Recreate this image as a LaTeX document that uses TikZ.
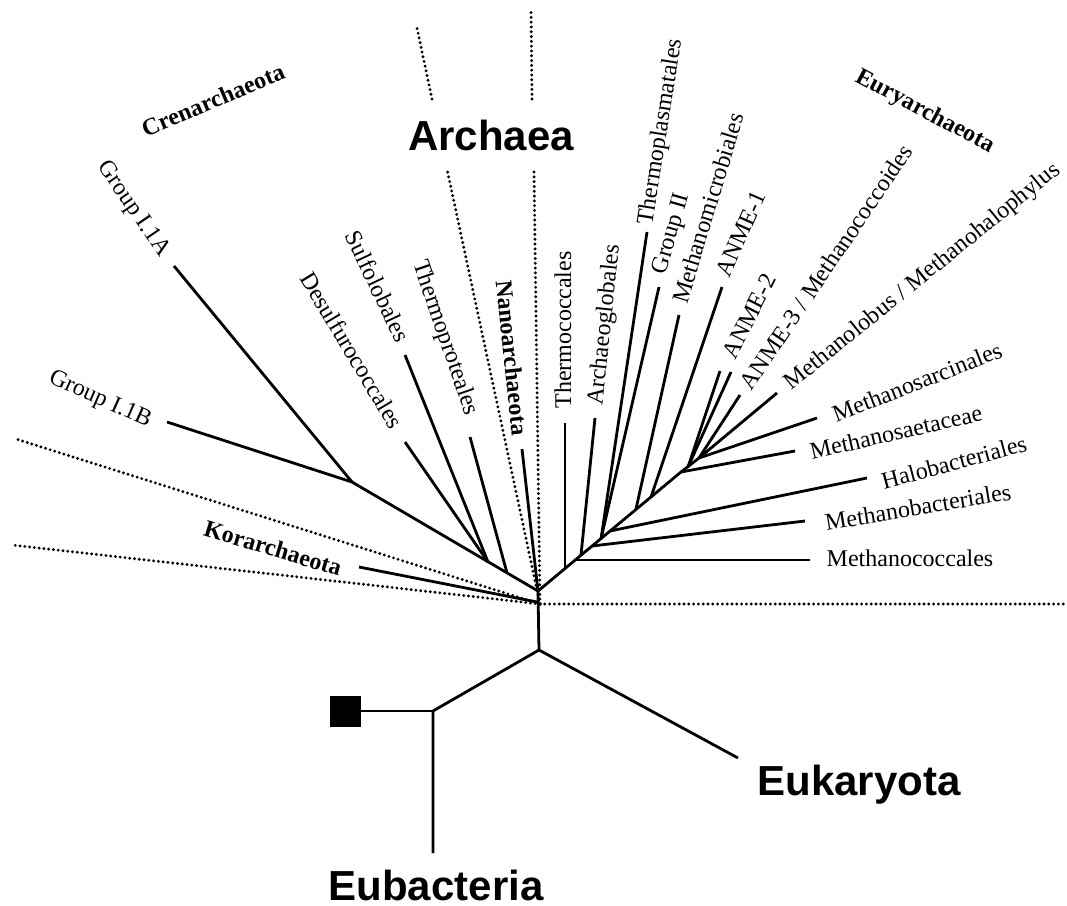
\documentclass[tikz,border=0pt]{standalone}
\usepackage{fontspec}
\setmainfont{Liberation Serif}
\setsansfont{Liberation Sans}
\begin{document}
\begin{tikzpicture}[x=0.5pt,y=-0.5pt,
  branch/.style={line width=1.4pt},
  divider/.style={line width=1.6pt, line cap=round, dash pattern=on 0pt off 2.4pt},
  taxon/.style={font=\fontsize{12}{14}\selectfont, inner sep=0pt},
  phylum/.style={font=\fontsize{12}{14}\selectfont\bfseries, inner sep=0pt},
  kingdomname/.style={font=\sffamily\bfseries\fontsize{21}{25}\selectfont, inner sep=0pt}]
\useasboundingbox (0,0) rectangle (1067,906);

% ---- junctions and tips ----
\coordinate (R) at (538,591);     % archaeal root
\coordinate (D) at (540,604);     % meeting point of the dividers
\coordinate (J1) at (539,650);
\coordinate (J2) at (433,711);
\coordinate (eubEnd) at (433,853);
\coordinate (eukEnd) at (738,758);

% Crenarchaeota
\coordinate (c1) at (352,482);
\coordinate (tI1A) at (174,266);
\coordinate (tI1B) at (167,422);
\coordinate (cDS) at (488,562);
\coordinate (tSulf) at (405,355);
\coordinate (tDesulf) at (405,442);
\coordinate (cTp) at (507,573);
\coordinate (tTp) at (470,437);
\coordinate (tNano) at (522,449);
\coordinate (tKor) at (359,567);
\coordinate (kEnd) at (537,602);

% Euryarchaeota
\coordinate (T) at (681,472);
\coordinate (F) at (699,458);
\coordinate (eTc) at (565,568);
\coordinate (tTc) at (565,423);
\coordinate (eMc) at (575,560);
\coordinate (tMc) at (810,560);
\coordinate (eAg) at (581,555);
\coordinate (tAg) at (595,418);
\coordinate (eMb) at (592,546);
\coordinate (tMb) at (805,521);
\coordinate (eTG) at (601,539);
\coordinate (tTpl) at (647,232);
\coordinate (tG2) at (659,287);
\coordinate (eHa) at (610,531);
\coordinate (tHa) at (867,478);
\coordinate (eMm) at (636,509);
\coordinate (tMm) at (679,315);
\coordinate (eA1) at (651,497);
\coordinate (tA1) at (722,287);
\coordinate (tMst) at (795,451);
\coordinate (eA2) at (688,467);
\coordinate (tA2a) at (720,371);
\coordinate (tA2b) at (731,372);
\coordinate (tA3) at (740,395);
\coordinate (tMl) at (777,393);
\coordinate (tMs) at (817,418);

% ---- dividers between groups ----
\draw[divider] (D) -- (1067,604);
\draw[divider] (D) -- (12,545);
\draw[divider] (D) -- (16,439);
\draw[divider] (D) -- (447,169);
\draw[divider] (432,99) -- (417,28);
\draw[divider] (D) -- (534,170);
\draw[divider] (532,99) -- (531,10);

% ---- deep branches ----
\draw[branch] (R) -- (J1) -- (J2) -- (eubEnd);
\draw[branch] (J1) -- (eukEnd);
\node[draw, fill=black, minimum size=15pt, inner sep=0pt] (sq) at (345,711) {};
\draw[branch] (sq.east) -- (J2);

% ---- Crenarchaeota ----
\draw[branch] (R) -- (c1);
\draw[branch] (c1) -- (tI1A);
\draw[branch] (c1) -- (tI1B);
\draw[branch] (cDS) -- (tSulf);
\draw[branch] (cDS) -- (tDesulf);
\draw[branch] (cTp) -- (tTp);
\draw[branch] (R) -- (tNano);
\draw[branch] (kEnd) -- (tKor);

% ---- Euryarchaeota ----
\draw[branch] (R) -- (T) -- (F);
\draw[branch] (eTc) -- (tTc);
\draw[branch] (eMc) -- (tMc);
\draw[branch] (eAg) -- (tAg);
\draw[branch] (eMb) -- (tMb);
\draw[branch] (eTG) -- (tTpl);
\draw[branch] (eTG) -- (tG2);
\draw[branch] (eHa) -- (tHa);
\draw[branch] (eMm) -- (tMm);
\draw[branch] (eA1) -- (tA1);
\draw[branch] (T) -- (tMst);
\draw[branch] (eA2) -- (tA2a);
\draw[branch] (eA2) -- (tA2b);
\draw[branch] (F) -- (tA3);
\draw[branch] (F) -- (tMl);
\draw[branch] (F) -- (tMs);

% ---- domain names ----
\node[kingdomname] (archaea) at (491,135) {Archaea};
\node[kingdomname, anchor=base] (eukaryota) at (859,795) {Eukaryota};
\node[kingdomname, anchor=base] (eubacteria) at (436,900) {Eubacteria};

% ---- phylum names ----
\node[phylum, rotate=22.8] (cren) at (213,100) {Crenarchaeota};
\node[phylum, rotate=-28] (eury) at (925,112) {Euryarchaeota};
\node[phylum, rotate=-84] (nano) at (512,358) {Nanoarchaeota};
\node[phylum, rotate=-16.7] (kor) at (273,548) {Korarchaeota};

% ---- Crenarchaeota lineages ----
\node[taxon, rotate=-55.6] (lI1A) at (133,209) {Group I.1A};
\node[taxon, rotate=-24] (lI1B) at (100,400) {Group I.1B};
\node[taxon, rotate=-59] (lDesulf) at (352,350) {Desulfurococcales};
\node[taxon, rotate=-64.7] (lSulf) at (378,286) {Sulfolobales};
\node[taxon, rotate=-71] (lTp) at (445,338) {Thermoproteales};

% ---- Euryarchaeota lineages ----
\node[taxon, rotate=90] (lTc) at (563,330) {Thermococcales};
\node[taxon, rotate=84] (lAg) at (605,325) {Archaeoglobales};
\node[taxon, rotate=81] (lTpl) at (661,132) {Thermoplasmatales};
\node[taxon, rotate=74] (lG2) at (672,234) {Group II};
\node[taxon, rotate=73] (lMm) at (708,208) {Methanomicrobiales};
\node[taxon, rotate=66] (lA1) at (741,234) {ANME-1};
\node[taxon, rotate=63] (lA2) at (749,316) {ANME-2};
\node[taxon, rotate=56] (lA3) at (826,267) {ANME-3 / Methanococcoides};
\node[taxon, rotate=39] (lMl) at (923,277) {Methanolobus / Methanohalophylus};
\node[taxon, rotate=21.5] (lMs) at (917,382) {Methanosarcinales};
\node[taxon, rotate=13] (lMst) at (896,432) {Methanosaetaceae};
\node[taxon, rotate=15] (lHa) at (954,462) {Halobacteriales};
\node[taxon, rotate=9.5] (lMb) at (918,507) {Methanobacteriales};
\node[taxon] (lMc) at (910,558) {Methanococcales};
\end{tikzpicture}
\end{document}
